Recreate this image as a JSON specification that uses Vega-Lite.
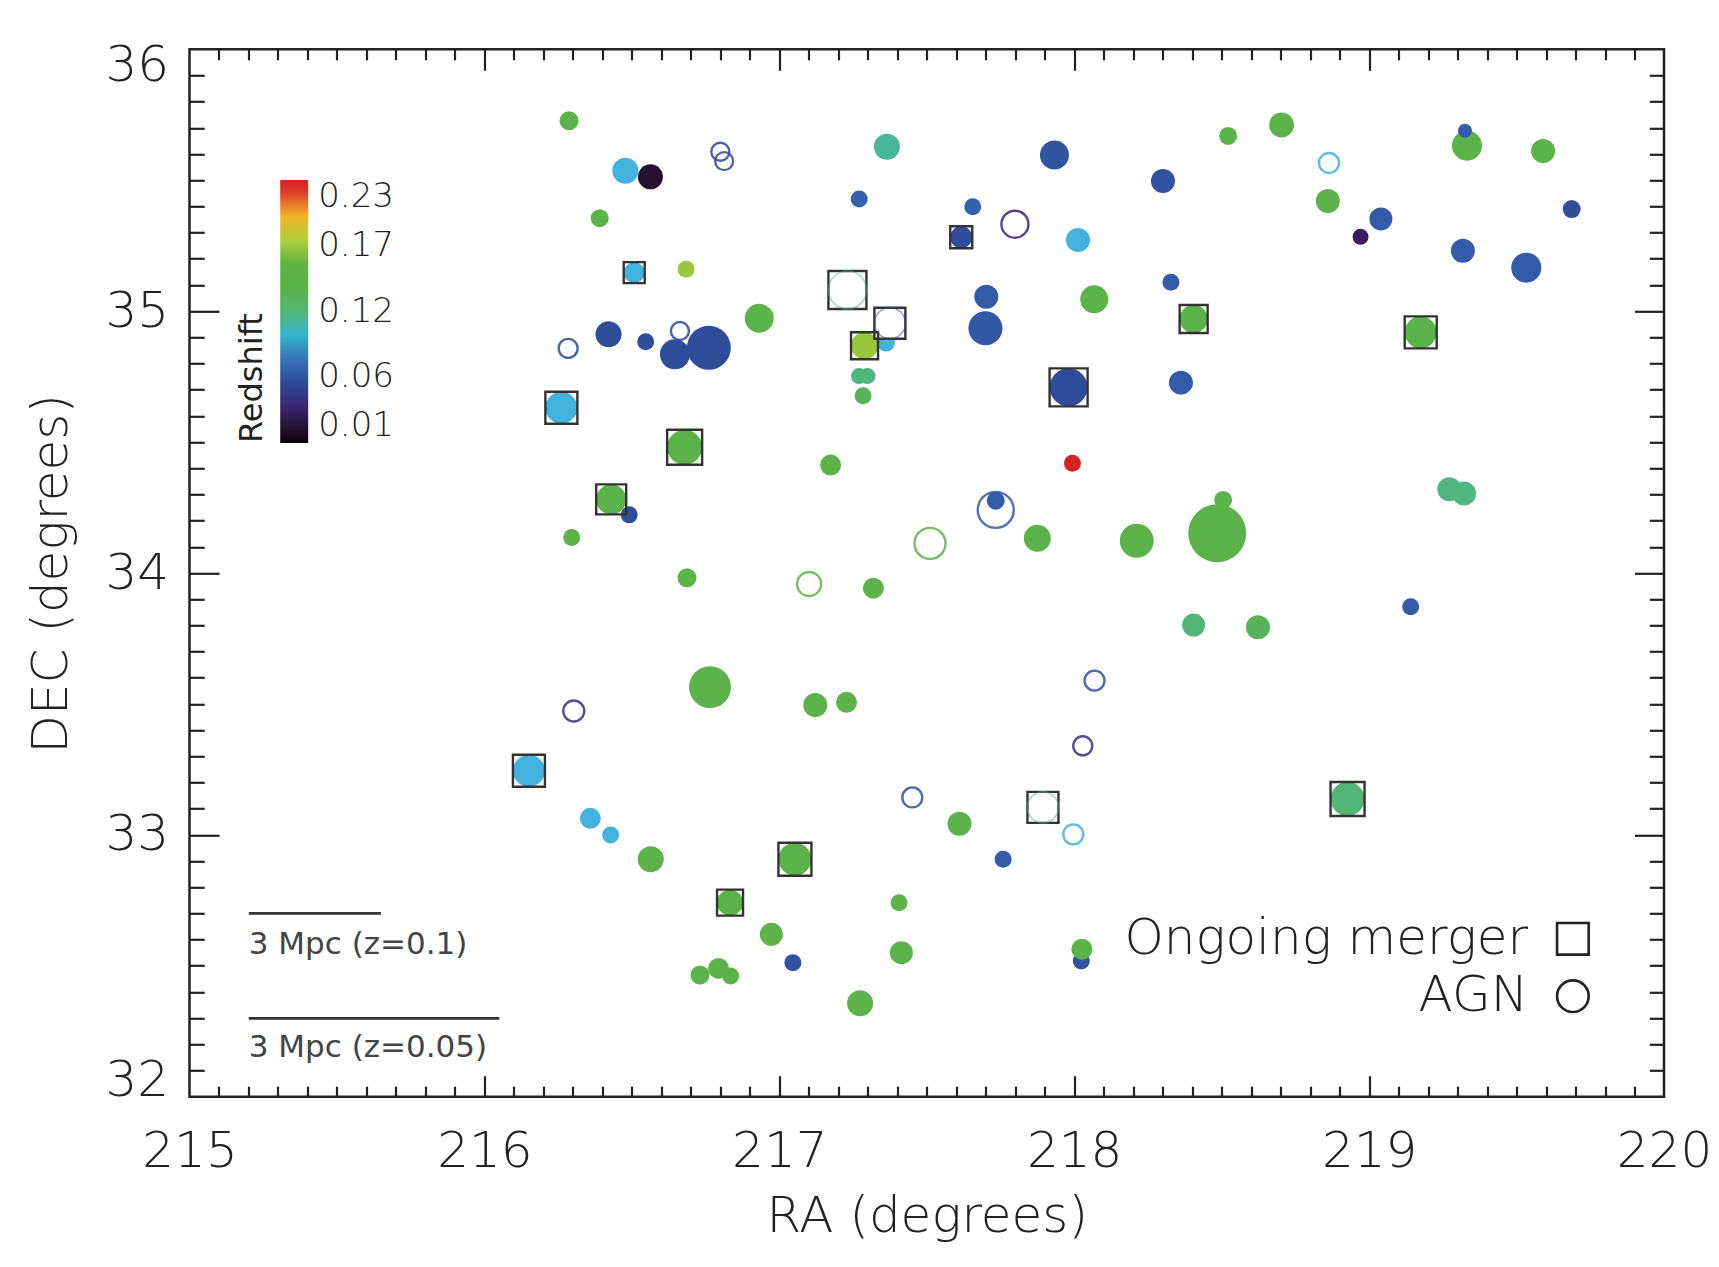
{
  "$schema": "https://vega.github.io/schema/vega-lite/v6.json",
  "width": 1474.5,
  "height": 1047.4,
  "autosize": {"type": "none"},
  "padding": {"left": 189.5, "top": 49.3, "right": 55, "bottom": 170.3},
  "background": "white",
  "config": {
    "view": {"stroke": "#222", "strokeWidth": 2.5},
    "axis": {
      "grid": false,
      "domain": false,
      "labelFont": "DejaVu Sans",
      "labelFontWeight": 200,
      "labelColor": "#222",
      "titleFont": "DejaVu Sans",
      "titleFontWeight": 200,
      "titleColor": "#222",
      "tickColor": "#222",
      "tickWidth": 2.2
    },
    "legend": {
      "orient": "none",
      "direction": "vertical",
      "gradientLength": 263,
      "gradientThickness": 28,
      "gradientStrokeWidth": 0,
      "labelFont": "DejaVu Sans",
      "labelFontWeight": 200,
      "labelColor": "#222",
      "titleFont": "DejaVu Sans",
      "titleFontWeight": 400,
      "titleColor": "#222"
    }
  },
  "datasets": {
    "galaxies": [
      {"ra": 216.287, "dec": 35.727, "z": 0.14, "d": 19, "t": "g"},
      {"ra": 216.478, "dec": 35.536, "z": 0.096, "d": 26, "t": "g"},
      {"ra": 216.563, "dec": 35.513, "z": 0.022, "d": 25, "t": "g"},
      {"ra": 216.8, "dec": 35.609, "z": 0.06, "d": 18, "t": "a"},
      {"ra": 216.813, "dec": 35.573, "z": 0.06, "d": 18, "t": "a"},
      {"ra": 216.391, "dec": 35.355, "z": 0.14, "d": 18, "t": "g"},
      {"ra": 216.508, "dec": 35.147, "z": 0.096, "d": 21, "t": "m"},
      {"ra": 216.684, "dec": 35.16, "z": 0.176, "d": 17, "t": "g"},
      {"ra": 216.284, "dec": 34.858, "z": 0.06, "d": 19, "t": "a"},
      {"ra": 216.421, "dec": 34.912, "z": 0.062, "d": 26, "t": "g"},
      {"ra": 216.547, "dec": 34.883, "z": 0.062, "d": 17, "t": "g"},
      {"ra": 216.663, "dec": 34.924, "z": 0.06, "d": 18, "t": "a"},
      {"ra": 216.646, "dec": 34.835, "z": 0.062, "d": 30, "t": "g"},
      {"ra": 216.761, "dec": 34.86, "z": 0.062, "d": 44, "t": "g"},
      {"ra": 216.932, "dec": 34.973, "z": 0.14, "d": 29, "t": "g"},
      {"ra": 216.261, "dec": 34.631, "z": 0.096, "d": 32, "t": "m"},
      {"ra": 216.679, "dec": 34.48, "z": 0.14, "d": 35, "t": "m"},
      {"ra": 216.43, "dec": 34.281, "z": 0.14, "d": 30, "t": "m"},
      {"ra": 216.491, "dec": 34.222, "z": 0.062, "d": 17, "t": "g"},
      {"ra": 216.296, "dec": 34.136, "z": 0.14, "d": 17, "t": "g"},
      {"ra": 216.687, "dec": 33.982, "z": 0.14, "d": 19, "t": "g"},
      {"ra": 217.101, "dec": 33.958, "z": 0.14, "d": 24, "t": "a"},
      {"ra": 217.319, "dec": 33.942, "z": 0.14, "d": 21, "t": "g"},
      {"ra": 217.174, "dec": 34.412, "z": 0.14, "d": 21, "t": "g"},
      {"ra": 217.365, "dec": 35.628, "z": 0.112, "d": 26, "t": "g"},
      {"ra": 217.271, "dec": 35.428, "z": 0.074, "d": 17, "t": "g"},
      {"ra": 217.231, "dec": 35.081, "z": 0.118, "d": 38, "t": "e"},
      {"ra": 217.362, "dec": 34.88, "z": 0.096, "d": 18, "t": "g"},
      {"ra": 217.375, "dec": 34.954, "z": 0.06, "d": 31, "t": "e"},
      {"ra": 217.289, "dec": 34.868, "z": 0.176, "d": 27, "t": "m"},
      {"ra": 217.27, "dec": 34.752, "z": 0.118, "d": 16, "t": "g"},
      {"ra": 217.299, "dec": 34.752, "z": 0.118, "d": 16, "t": "g"},
      {"ra": 217.284, "dec": 34.677, "z": 0.125, "d": 17, "t": "g"},
      {"ra": 217.656, "dec": 35.399, "z": 0.074, "d": 17, "t": "g"},
      {"ra": 217.617, "dec": 35.282, "z": 0.062, "d": 22, "t": "m"},
      {"ra": 217.799, "dec": 35.332, "z": 0.04, "d": 27, "t": "a"},
      {"ra": 217.933, "dec": 35.596, "z": 0.066, "d": 29, "t": "g"},
      {"ra": 218.013, "dec": 35.272, "z": 0.096, "d": 24, "t": "g"},
      {"ra": 217.702, "dec": 35.055, "z": 0.07, "d": 24, "t": "g"},
      {"ra": 217.699, "dec": 34.935, "z": 0.068, "d": 34, "t": "g"},
      {"ra": 218.068, "dec": 35.045, "z": 0.14, "d": 28, "t": "g"},
      {"ra": 217.981, "dec": 34.709, "z": 0.062, "d": 38, "t": "m"},
      {"ra": 217.994, "dec": 34.419, "z": 0.23, "d": 17, "t": "g"},
      {"ra": 218.301, "dec": 35.497, "z": 0.065, "d": 24, "t": "g"},
      {"ra": 218.522, "dec": 35.669, "z": 0.14, "d": 18, "t": "g"},
      {"ra": 218.703, "dec": 35.711, "z": 0.14, "d": 25, "t": "g"},
      {"ra": 218.864, "dec": 35.566, "z": 0.096, "d": 20, "t": "a"},
      {"ra": 218.86, "dec": 35.421, "z": 0.14, "d": 24, "t": "g"},
      {"ra": 218.971, "dec": 35.284, "z": 0.035, "d": 16, "t": "g"},
      {"ra": 219.04, "dec": 35.352, "z": 0.07, "d": 23, "t": "g"},
      {"ra": 219.332, "dec": 35.632, "z": 0.14, "d": 30, "t": "g"},
      {"ra": 219.325, "dec": 35.689, "z": 0.07, "d": 14, "t": "g"},
      {"ra": 219.59, "dec": 35.612, "z": 0.14, "d": 24, "t": "g"},
      {"ra": 219.687, "dec": 35.39, "z": 0.062, "d": 18, "t": "g"},
      {"ra": 219.318, "dec": 35.231, "z": 0.07, "d": 24, "t": "g"},
      {"ra": 219.533, "dec": 35.166, "z": 0.07, "d": 30, "t": "g"},
      {"ra": 218.328, "dec": 35.11, "z": 0.07, "d": 17, "t": "g"},
      {"ra": 218.405, "dec": 34.97, "z": 0.14, "d": 28, "t": "m"},
      {"ra": 219.175, "dec": 34.919, "z": 0.14, "d": 32, "t": "m"},
      {"ra": 218.362, "dec": 34.727, "z": 0.07, "d": 24, "t": "g"},
      {"ra": 217.734, "dec": 34.276, "z": 0.07, "d": 18, "t": "g"},
      {"ra": 217.734, "dec": 34.241, "z": 0.07, "d": 36, "t": "a"},
      {"ra": 217.511, "dec": 34.113, "z": 0.14, "d": 31, "t": "a"},
      {"ra": 217.875, "dec": 34.133, "z": 0.14, "d": 27, "t": "g"},
      {"ra": 218.212, "dec": 34.123, "z": 0.14, "d": 34, "t": "g"},
      {"ra": 218.485, "dec": 34.152, "z": 0.13, "d": 58, "t": "g"},
      {"ra": 218.505, "dec": 34.279, "z": 0.14, "d": 18, "t": "g"},
      {"ra": 218.405, "dec": 33.801, "z": 0.12, "d": 23, "t": "g"},
      {"ra": 218.623, "dec": 33.793, "z": 0.125, "d": 24, "t": "g"},
      {"ra": 219.272, "dec": 34.32, "z": 0.118, "d": 24, "t": "g"},
      {"ra": 219.322, "dec": 34.304, "z": 0.118, "d": 24, "t": "g"},
      {"ra": 219.141, "dec": 33.871, "z": 0.07, "d": 17, "t": "g"},
      {"ra": 218.927, "dec": 33.137, "z": 0.12, "d": 34, "t": "m"},
      {"ra": 216.765, "dec": 33.564, "z": 0.14, "d": 42, "t": "g"},
      {"ra": 216.303, "dec": 33.473, "z": 0.045, "d": 21, "t": "a"},
      {"ra": 217.122, "dec": 33.496, "z": 0.14, "d": 24, "t": "g"},
      {"ra": 217.228, "dec": 33.506, "z": 0.14, "d": 21, "t": "g"},
      {"ra": 218.069, "dec": 33.589, "z": 0.065, "d": 20, "t": "a"},
      {"ra": 218.029, "dec": 33.34, "z": 0.045, "d": 19, "t": "a"},
      {"ra": 217.451, "dec": 33.143, "z": 0.065, "d": 20, "t": "a"},
      {"ra": 217.611, "dec": 33.042, "z": 0.14, "d": 24, "t": "g"},
      {"ra": 217.894, "dec": 33.105, "z": 0.118, "d": 31, "t": "e"},
      {"ra": 217.997, "dec": 33.002, "z": 0.096, "d": 20, "t": "a"},
      {"ra": 217.759, "dec": 32.907, "z": 0.07, "d": 17, "t": "g"},
      {"ra": 216.151, "dec": 33.245, "z": 0.096, "d": 32, "t": "m"},
      {"ra": 216.359, "dec": 33.063, "z": 0.096, "d": 21, "t": "g"},
      {"ra": 216.428, "dec": 32.999, "z": 0.096, "d": 17, "t": "g"},
      {"ra": 216.564, "dec": 32.907, "z": 0.14, "d": 26, "t": "g"},
      {"ra": 217.053, "dec": 32.907, "z": 0.14, "d": 33, "t": "m"},
      {"ra": 216.833, "dec": 32.741, "z": 0.14, "d": 26, "t": "m"},
      {"ra": 217.406, "dec": 32.741, "z": 0.14, "d": 17, "t": "g"},
      {"ra": 216.973, "dec": 32.62, "z": 0.14, "d": 23, "t": "g"},
      {"ra": 217.414, "dec": 32.55, "z": 0.14, "d": 23, "t": "g"},
      {"ra": 218.024, "dec": 32.518, "z": 0.065, "d": 17, "t": "g"},
      {"ra": 218.026, "dec": 32.563, "z": 0.14, "d": 21, "t": "g"},
      {"ra": 217.046, "dec": 32.512, "z": 0.065, "d": 17, "t": "g"},
      {"ra": 216.731, "dec": 32.465, "z": 0.14, "d": 19, "t": "g"},
      {"ra": 216.794, "dec": 32.49, "z": 0.14, "d": 21, "t": "g"},
      {"ra": 216.835, "dec": 32.461, "z": 0.14, "d": 17, "t": "g"},
      {"ra": 217.274, "dec": 32.357, "z": 0.14, "d": 26, "t": "g"}
    ],
    "scalebars": [
      {"ra": 215.201, "ra2": 215.649, "dec": 32.7, "lab_dec": 32.581, "label": "3 Mpc (z=0.1)"},
      {"ra": 215.201, "ra2": 216.051, "dec": 32.299, "lab_dec": 32.185, "label": "3 Mpc (z=0.05)"}
    ],
    "keys": [
      {"ra": 219.539, "sym_ra": 219.691, "dec": 32.603, "label": "Ongoing merger", "shape": "square"},
      {"ra": 219.539, "sym_ra": 219.691, "dec": 32.384, "label": "AGN", "shape": "circle"}
    ]
  },
  "layer": [
    {
      "data": {"name": "galaxies"},
      "transform": [{"filter": "datum.t == 'g' || datum.t == 'm'"}],
      "mark": {"type": "circle", "opacity": 1},
      "encoding": {
        "x": {
          "field": "ra", "type": "quantitative",
          "scale": {"domain": [215, 220], "nice": false, "zero": false},
          "axis": {
            "orient": "bottom", "values": [215, 216, 217, 218, 219, 220],
            "ticks": false, "labelFontSize": 50, "labelPadding": 30, "labelFlush": false,
            "title": "RA (degrees)", "titleFontSize": 50, "titleY": 135, "titleBaseline": "alphabetic"
          }
        },
        "y": {
          "field": "dec", "type": "quantitative",
          "scale": {"domain": [32, 36], "nice": false, "zero": false},
          "axis": {
            "orient": "left", "values": [32, 33, 34, 35, 36],
            "ticks": false, "labelFontSize": 50, "labelPadding": 21, "labelFlush": true, "labelFlushOffset": 9,
            "title": "DEC (degrees)", "titleFontSize": 50, "titleX": -123, "titleY": 524,
            "titleAngle": 270, "titleAlign": "center", "titleBaseline": "alphabetic"
          }
        },
        "fill": {
          "field": "z", "type": "quantitative",
          "scale": {
            "domain": [0.01, 0.022, 0.035, 0.046, 0.06, 0.074, 0.085, 0.096, 0.107, 0.119, 0.127, 0.16, 0.171, 0.182, 0.192, 0.2025, 0.212, 0.222, 0.23],
            "range": ["#050305", "#24102f", "#3a1c62", "#363081", "#2e4a96", "#3562ae", "#3a7fc6", "#43b2de", "#4bb7a8", "#53b57c", "#5bb24c", "#5fb443", "#80be3e", "#bad33a", "#f2e32c", "#f0a52d", "#e6602a", "#d6302a", "#d42323"]
          },
          "legend": {
            "type": "gradient",
            "orient": "none",
            "legendX": 46.7,
            "legendY": 130.7,
            "direction": "vertical",
            "gradientLength": 263,
            "gradientThickness": 28,
            "title": "Redshift",
            "titleOrient": "left",
            "titleAngle": 270,
            "titleAnchor": "start",
            "titlePadding": 10,
            "titleFontSize": 32,
            "values": [0.01, 0.065, 0.12, 0.175, 0.23],
            "labelExpr": "datum.value < 0.03 ? '0.01' : datum.value < 0.09 ? '0.06' : datum.value < 0.15 ? '0.12' : datum.value < 0.2 ? '0.17' : '0.23'",
            "labelFontSize": 34,
            "labelOffset": 10,
            "labelBaseline": "alphabetic",
            "labelOverlap": false,
            "encoding": {
              "labels": {"update": {"baseline": {"value": "alphabetic"}}}
            }
          }
        },
        "size": {
          "field": "d", "type": "quantitative",
          "scale": {"type": "pow", "exponent": 2, "domain": [0, 60], "range": [0, 3600]},
          "legend": null
        }
      }
    },
    {
      "data": {"name": "galaxies"},
      "transform": [{"filter": "datum.t == 'a'"}],
      "mark": {"type": "point", "shape": "circle", "filled": false, "opacity": 0.85, "strokeWidth": 2.4},
      "encoding": {
        "x": {
          "field": "ra", "type": "quantitative",
          "scale": {"domain": [215, 220], "nice": false, "zero": false},
          "axis": {
            "orient": "bottom", "labels": false, "title": null, "tickSize": -10.5,
            "values": [215.1, 215.2, 215.3, 215.4, 215.5, 215.6, 215.7, 215.8, 215.9, 216.1, 216.2, 216.3, 216.4, 216.5, 216.6, 216.7, 216.8, 216.9, 217.1, 217.2, 217.3, 217.4, 217.5, 217.6, 217.7, 217.8, 217.9, 218.1, 218.2, 218.3, 218.4, 218.5, 218.6, 218.7, 218.8, 218.9, 219.1, 219.2, 219.3, 219.4, 219.5, 219.6, 219.7, 219.8, 219.9]
          }
        },
        "y": {
          "field": "dec", "type": "quantitative",
          "scale": {"domain": [32, 36], "nice": false, "zero": false},
          "axis": {
            "orient": "left", "labels": false, "title": null, "tickSize": -14.7,
            "values": [32.1, 32.2, 32.3, 32.4, 32.5, 32.6, 32.7, 32.8, 32.9, 33.1, 33.2, 33.3, 33.4, 33.5, 33.6, 33.7, 33.8, 33.9, 34.1, 34.2, 34.3, 34.4, 34.5, 34.6, 34.7, 34.8, 34.9, 35.1, 35.2, 35.3, 35.4, 35.5, 35.6, 35.7, 35.8, 35.9]
          }
        },
        "stroke": {
          "field": "z", "type": "quantitative",
          "scale": {
            "domain": [0.0099, 0.022, 0.035, 0.046, 0.06, 0.074, 0.085, 0.096, 0.107, 0.119, 0.127, 0.16, 0.171, 0.182, 0.192, 0.2025, 0.212, 0.222, 0.23],
            "range": ["#050305", "#24102f", "#3a1c62", "#363081", "#2e4a96", "#3562ae", "#3a7fc6", "#43b2de", "#4bb7a8", "#53b57c", "#5bb24c", "#5fb443", "#80be3e", "#bad33a", "#f2e32c", "#f0a52d", "#e6602a", "#d6302a", "#d42323"]
          },
          "legend": null
        },
        "size": {
          "field": "d", "type": "quantitative",
          "scale": {"type": "pow", "exponent": 2, "domain": [0, 60], "range": [0, 3600]},
          "legend": null
        }
      }
    },
    {
      "data": {"name": "galaxies"},
      "transform": [{"filter": "datum.t == 'e'"}],
      "mark": {"type": "point", "shape": "square", "filled": true, "fill": "white", "stroke": "#333", "strokeWidth": 2.4, "opacity": 1},
      "encoding": {
        "x": {
          "field": "ra", "type": "quantitative",
          "scale": {"domain": [215, 220], "nice": false, "zero": false},
          "axis": {"orient": "bottom", "labels": false, "title": null, "tickSize": -21, "values": [216, 217, 218, 219]}
        },
        "y": {
          "field": "dec", "type": "quantitative",
          "scale": {"domain": [32, 36], "nice": false, "zero": false},
          "axis": {"orient": "left", "labels": false, "title": null, "tickSize": -29.5, "values": [33, 34, 35]}
        },
        "size": {
          "field": "d", "type": "quantitative",
          "scale": {"type": "pow", "exponent": 2, "domain": [0, 60], "range": [0, 3600]},
          "legend": null
        }
      }
    },
    {
      "data": {"name": "galaxies"},
      "transform": [{"filter": "datum.t == 'e'"}],
      "mark": {"type": "point", "shape": "circle", "filled": false, "opacity": 0.5, "strokeWidth": 1.6},
      "encoding": {
        "x": {
          "field": "ra", "type": "quantitative",
          "scale": {"domain": [215, 220], "nice": false, "zero": false},
          "axis": {
            "orient": "top", "labels": false, "title": null, "tickSize": -10.5,
            "values": [215.1, 215.2, 215.3, 215.4, 215.5, 215.6, 215.7, 215.8, 215.9, 216.1, 216.2, 216.3, 216.4, 216.5, 216.6, 216.7, 216.8, 216.9, 217.1, 217.2, 217.3, 217.4, 217.5, 217.6, 217.7, 217.8, 217.9, 218.1, 218.2, 218.3, 218.4, 218.5, 218.6, 218.7, 218.8, 218.9, 219.1, 219.2, 219.3, 219.4, 219.5, 219.6, 219.7, 219.8, 219.9]
          }
        },
        "y": {
          "field": "dec", "type": "quantitative",
          "scale": {"domain": [32, 36], "nice": false, "zero": false},
          "axis": {
            "orient": "right", "labels": false, "title": null, "tickSize": -14.7,
            "values": [32.1, 32.2, 32.3, 32.4, 32.5, 32.6, 32.7, 32.8, 32.9, 33.1, 33.2, 33.3, 33.4, 33.5, 33.6, 33.7, 33.8, 33.9, 34.1, 34.2, 34.3, 34.4, 34.5, 34.6, 34.7, 34.8, 34.9, 35.1, 35.2, 35.3, 35.4, 35.5, 35.6, 35.7, 35.8, 35.9]
          }
        },
        "stroke": {
          "field": "z", "type": "quantitative",
          "scale": {
            "domain": [0.0099, 0.022, 0.035, 0.046, 0.06, 0.074, 0.085, 0.096, 0.107, 0.119, 0.127, 0.16, 0.171, 0.182, 0.192, 0.2025, 0.212, 0.222, 0.23],
            "range": ["#050305", "#24102f", "#3a1c62", "#363081", "#2e4a96", "#3562ae", "#3a7fc6", "#43b2de", "#4bb7a8", "#53b57c", "#5bb24c", "#5fb443", "#80be3e", "#bad33a", "#f2e32c", "#f0a52d", "#e6602a", "#d6302a", "#d42323"]
          },
          "legend": null
        },
        "size": {
          "field": "d", "type": "quantitative",
          "scale": {"type": "pow", "exponent": 2, "domain": [0, 60], "range": [0, 3600]},
          "legend": null
        }
      }
    },
    {
      "data": {"name": "galaxies"},
      "transform": [{"filter": "datum.t == 'm'"}],
      "mark": {"type": "point", "shape": "square", "filled": false, "stroke": "#333", "strokeWidth": 2.4, "opacity": 1},
      "encoding": {
        "x": {
          "field": "ra", "type": "quantitative",
          "scale": {"domain": [215, 220], "nice": false, "zero": false},
          "axis": {"orient": "top", "labels": false, "title": null, "tickSize": -21, "values": [216, 217, 218, 219]}
        },
        "y": {
          "field": "dec", "type": "quantitative",
          "scale": {"domain": [32, 36], "nice": false, "zero": false},
          "axis": {"orient": "right", "labels": false, "title": null, "tickSize": -29.5, "values": [33, 34, 35]}
        },
        "size": {
          "field": "d", "type": "quantitative",
          "scale": {"type": "pow", "exponent": 2, "domain": [0, 60], "range": [0, 3600]},
          "legend": null
        }
      }
    },
    {
      "data": {"name": "scalebars"},
      "mark": {"type": "rule", "stroke": "#333", "strokeWidth": 2.6},
      "encoding": {
        "x": {"field": "ra", "type": "quantitative", "scale": {"domain": [215, 220], "nice": false, "zero": false}, "axis": null},
        "x2": {"field": "ra2"},
        "y": {"field": "dec", "type": "quantitative", "scale": {"domain": [32, 36], "nice": false, "zero": false}, "axis": null}
      }
    },
    {
      "data": {"name": "scalebars"},
      "mark": {"type": "text", "align": "left", "baseline": "middle", "font": "DejaVu Sans", "fontWeight": 400, "fontSize": 31, "color": "#444"},
      "encoding": {
        "x": {"field": "ra", "type": "quantitative", "scale": {"domain": [215, 220], "nice": false, "zero": false}, "axis": null},
        "y": {"field": "lab_dec", "type": "quantitative", "scale": {"domain": [32, 36], "nice": false, "zero": false}, "axis": null},
        "text": {"field": "label"}
      }
    },
    {
      "data": {"name": "keys"},
      "mark": {"type": "text", "align": "right", "baseline": "middle", "font": "DejaVu Sans", "fontWeight": 200, "fontSize": 50, "color": "#222"},
      "encoding": {
        "x": {"field": "ra", "type": "quantitative", "scale": {"domain": [215, 220], "nice": false, "zero": false}, "axis": null},
        "y": {"field": "dec", "type": "quantitative", "scale": {"domain": [32, 36], "nice": false, "zero": false}, "axis": null},
        "text": {"field": "label"}
      }
    },
    {
      "data": {"name": "keys"},
      "mark": {"type": "point", "filled": false, "stroke": "#222", "strokeWidth": 2.6, "size": 1000, "opacity": 1},
      "encoding": {
        "x": {"field": "sym_ra", "type": "quantitative", "scale": {"domain": [215, 220], "nice": false, "zero": false}, "axis": null},
        "y": {"field": "dec", "type": "quantitative", "scale": {"domain": [32, 36], "nice": false, "zero": false}, "axis": null},
        "shape": {"field": "shape", "type": "nominal", "scale": {"domain": ["square", "circle"], "range": ["square", "circle"]}, "legend": null}
      }
    }
  ],
  "resolve": {"axis": {"x": "independent", "y": "independent"}}
}
